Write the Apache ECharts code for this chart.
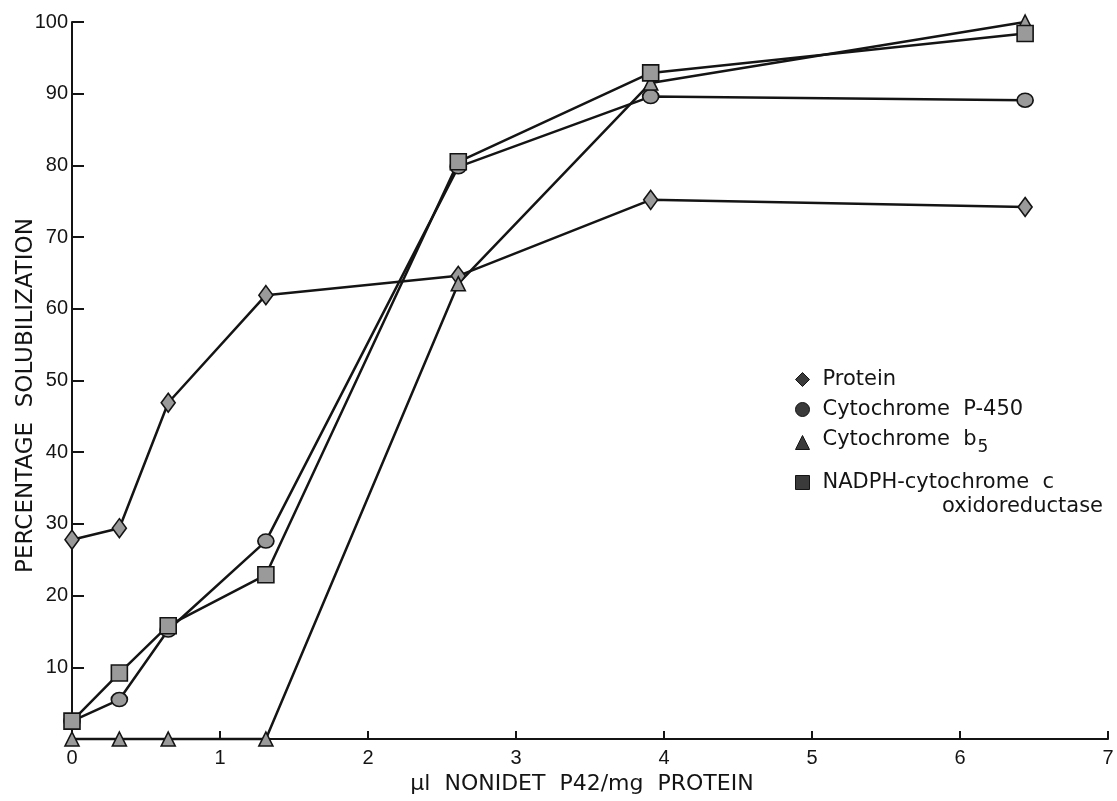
<!DOCTYPE html>
<html>
<head>
<meta charset="utf-8">
<title>Solubilization by Nonidet P42</title>
<script src="https://cdn.jsdelivr.net/npm/echarts@6/dist/echarts.min.js"></script>
<style>
  html, body { margin: 0; padding: 0; background: #ffffff; }
  #chart { width: 1117px; height: 801px; }
</style>
</head>
<body>
<div id="chart"></div>
<script>
// Detergent dose (µl Nonidet P42 per mg protein)
const doses = [0, 0.32, 0.65, 1.31, 2.61, 3.91, 6.44];

// Percentage solubilized at each dose
const protein = [27.8, 29.4, 46.9, 61.9, 64.6, 75.2, 74.2];
const p450 = [2.5, 5.5, 15.2, 27.6, 79.8, 89.6, 89.1];
const b5 = [0, 0, 0, 0, 63.5, 91.5, 100];
const nadph = [2.5, 9.2, 15.8, 22.9, 80.5, 92.9, 98.4];

const seriesNames = ['Protein', 'Cytochrome P-450', 'Cytochrome b5', 'NADPH-cytochrome c'];
const xTicks = [0, 1, 2, 3, 4, 5, 6, 7];
const yTicks = [0, 10, 20, 30, 40, 50, 60, 70, 80, 90, 100];

const INK = '#141414';
const FILL = '#9a9a9a';

function pairs(ys) {
  return doses.map((x, i) => [x, ys[i]]);
}

function makeSeries(name, ys, symbol, size) {
  return {
    name: name,
    type: 'line',
    data: pairs(ys),
    symbol: symbol,
    symbolSize: size,
    showAllSymbol: true,
    clip: false,
    lineStyle: { color: INK, width: 2.5 },
    itemStyle: { color: FILL, borderColor: INK, borderWidth: 1.6 },
    emphasis: { disabled: true },
    animation: false
  };
}

const chart = echarts.init(document.getElementById('chart'), null, { renderer: 'canvas' });

const legendText = {
  fontFamily: 'DejaVu Sans',
  fontSize: 21,
  color: INK,
  padding: [0, 0, 0, 8],
  rich: {
    n: { fontFamily: 'DejaVu Sans', fontSize: 21, color: INK, verticalAlign: 'top' },
    sub: { fontFamily: 'DejaVu Sans', fontSize: 17, color: INK, verticalAlign: 'top', padding: [10, 0, 0, 1] }
  }
};

function legendFormatter(name) {
  if (name === 'Cytochrome b5') return '{n|Cytochrome  b}{sub|5}';
  if (name === 'Cytochrome P-450') return '{n|Cytochrome  P-450}';
  if (name === 'NADPH-cytochrome c') return '{n|NADPH-cytochrome  c}';
  return '{n|' + name + '}';
}

const legendIcon = { color: '#3a3a3a', borderColor: INK, borderWidth: 1 };

chart.setOption({
  backgroundColor: '#ffffff',
  animation: false,
  grid: { left: 72, right: 9, top: 22, bottom: 62, containLabel: false, outerBoundsMode: 'none' },
  legend: [
    {
      orient: 'vertical',
      left: 790,
      top: 364,
      itemWidth: 14,
      itemHeight: 14,
      itemGap: 9,
      selectedMode: false,
      formatter: legendFormatter,
      textStyle: legendText,
      data: [
        { name: seriesNames[0], icon: 'diamond', itemStyle: legendIcon },
        { name: seriesNames[1], icon: 'circle', itemStyle: legendIcon },
        { name: seriesNames[2], icon: 'triangle', itemStyle: legendIcon }
      ]
    },
    {
      orient: 'vertical',
      left: 790,
      top: 467,
      itemWidth: 14,
      itemHeight: 14,
      selectedMode: false,
      formatter: legendFormatter,
      textStyle: legendText,
      data: [
        { name: seriesNames[3], icon: 'rect', itemStyle: legendIcon }
      ]
    }
  ],
  graphic: [
    {
      type: 'text',
      right: 14,
      top: 496,
      style: {
        text: 'oxidoreductase',
        fontFamily: 'DejaVu Sans',
        fontSize: 21,
        fill: INK
      }
    }
  ],
  xAxis: {
    type: 'value',
    min: xTicks[0],
    max: xTicks[xTicks.length - 1],
    interval: 1,
    name: 'µl  NONIDET  P42/mg  PROTEIN',
    nameLocation: 'middle',
    nameGap: 34,
    nameMoveOverlap: false,
    nameTextStyle: { fontFamily: 'DejaVu Sans', fontSize: 22, color: INK, padding: [0, 16, 0, 0] },
    axisLine: { show: true, lineStyle: { color: INK, width: 2 } },
    axisTick: { show: true, inside: true, length: 8, lineStyle: { color: INK, width: 2 } },
    axisLabel: { fontFamily: 'Liberation Sans', fontSize: 20, color: INK, margin: 9 },
    splitLine: { show: false }
  },
  yAxis: {
    type: 'value',
    min: yTicks[0],
    max: yTicks[yTicks.length - 1],
    interval: 10,
    name: 'PERCENTAGE  SOLUBILIZATION',
    nameLocation: 'middle',
    nameGap: 34,
    nameMoveOverlap: false,
    nameTextStyle: { fontFamily: 'DejaVu Sans', fontSize: 23, color: INK, padding: [0, 30, 0, 0] },
    axisLine: { show: true, lineStyle: { color: INK, width: 2 } },
    axisTick: { show: true, inside: true, length: 12, lineStyle: { color: INK, width: 2 } },
    axisLabel: {
      fontFamily: 'Liberation Sans',
      fontSize: 20,
      color: INK,
      margin: 4,
      formatter: v => (v === 0 ? '' : String(v))
    },
    splitLine: { show: false }
  },
  series: [
    makeSeries(seriesNames[0], protein, 'diamond', [14, 19]),
    makeSeries(seriesNames[1], p450, 'circle', [16, 14]),
    makeSeries(seriesNames[2], b5, 'triangle', [14, 14]),
    makeSeries(seriesNames[3], nadph, 'rect', [16, 16])
  ]
});
</script>
</body>
</html>
